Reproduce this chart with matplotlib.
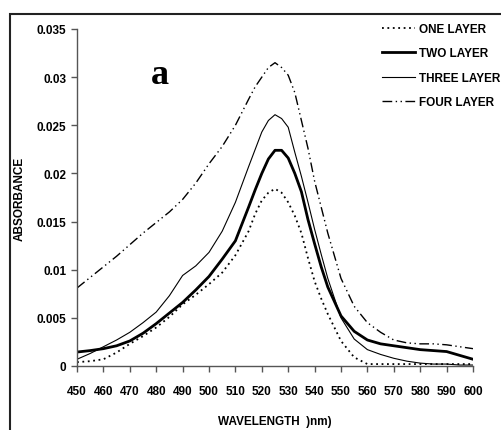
import matplotlib
matplotlib.use("Agg")
import matplotlib.pyplot as plt
from matplotlib.patches import Rectangle

plt.rcParams['font.family'] = ['Liberation Sans', 'DejaVu Sans']
plt.rcParams['font.weight'] = 'bold'

# wavelength grid (nm), finer around the peak
wavelength = [450, 455, 460, 465, 470, 475, 480, 485, 490, 495, 500, 505, 510,
              515, 517.5, 520, 522.5, 525, 527.5, 530, 532.5, 535, 537.5, 540, 542.5, 545,
              550, 555, 560, 565, 570, 575, 580, 585, 590, 595, 600]

one_layer = [0.0004, 0.0005, 0.0007, 0.0014, 0.0023, 0.0031, 0.0040, 0.0051, 0.0064, 0.0074, 0.0085, 0.0097, 0.0115,
             0.0140, 0.0158, 0.0172, 0.0180, 0.0184, 0.0180, 0.0170, 0.0156, 0.0138, 0.0112, 0.0088, 0.0070, 0.0054,
             0.0026, 0.0009, 0.0002, 0.0002, 0.0002, 0.0002, 0.0002, 0.0002, 0.0002, 0.0002, 0.0002]
two_layer = [0.00145, 0.0016, 0.0018, 0.0021, 0.0026, 0.0034, 0.0044, 0.0055, 0.0066, 0.0079, 0.0093, 0.0111, 0.0130,
             0.0165, 0.0183, 0.0200, 0.0215, 0.0224, 0.0224, 0.0216, 0.0200, 0.0181, 0.0152, 0.0127, 0.0103, 0.0082,
             0.0052, 0.0036, 0.0027, 0.0023, 0.0021, 0.0019, 0.0017, 0.0016, 0.0015, 0.0011, 0.0007]
three_layer = [0.0007, 0.0013, 0.0020, 0.0027, 0.0035, 0.0045, 0.0056, 0.0073, 0.0094, 0.0104, 0.0118, 0.0140, 0.0170,
               0.0207, 0.0225, 0.0243, 0.0255, 0.0261, 0.0257, 0.0248, 0.0222, 0.0197, 0.0170, 0.0142, 0.0116, 0.0091,
               0.0050, 0.0028, 0.0017, 0.0012, 0.0008, 0.0005, 0.0003, 0.0002, 0.0002, 0.0001, 0.0001]
four_layer = [0.0081, 0.0092, 0.0103, 0.0114, 0.0126, 0.0138, 0.0149, 0.0160, 0.0173, 0.0190, 0.0210, 0.0228, 0.0250,
              0.0277, 0.0290, 0.0300, 0.0310, 0.0315, 0.0310, 0.0302, 0.0284, 0.0255, 0.0226, 0.0192, 0.0165, 0.0138,
              0.0091, 0.0062, 0.0045, 0.0035, 0.0027, 0.0024, 0.0023, 0.0023, 0.0022, 0.0020, 0.0018]

labels = ["ONE LAYER", "TWO LAYER", "THREE LAYER", "FOUR LAYER"]
y_ticks = [0, 0.005, 0.01, 0.015, 0.02, 0.025, 0.03, 0.035]
y_ticklabels = ["0", "0.005", "0.01", "0.015", "0.02", "0.025", "0.03", "0.035"]
x_ticks = list(range(450, 601, 10))

fig = plt.figure(figsize=(5.02, 4.31), dpi=100)
ax = fig.add_axes([77 / 502, 64 / 431, 396 / 502, 337 / 431])

ax.plot(wavelength, one_layer, color='black', lw=1.3, linestyle=(0, (1, 2)), label=labels[0])
ax.plot(wavelength, two_layer, color='black', lw=2.0, label=labels[1])
ax.plot(wavelength, three_layer, color='black', lw=0.8, label=labels[2])
ax.plot(wavelength, four_layer, color='black', lw=1.0,
        linestyle=(0, (7, 2.5, 1, 2.5, 1, 2.5)), label=labels[3])

ax.set_xlim(450, 600)
ax.set_ylim(0, 0.035)
ax.set_xticks(x_ticks)
ax.set_yticks(y_ticks)
ax.set_yticklabels(y_ticklabels)
ax.tick_params(direction='out', length=4, width=1, color='#555555', labelsize=8.5)
ax.tick_params(axis='x', pad=10)
ax.tick_params(axis='y', pad=3.5)
for lab in ax.get_xticklabels() + ax.get_yticklabels():
    lab.set_fontweight('bold')
ax.spines['top'].set_visible(False)
ax.spines['right'].set_visible(False)
for s in ['left', 'bottom']:
    ax.spines[s].set_color('#555555')
    ax.spines[s].set_linewidth(1)

ax.set_xlabel("WAVELENGTH  )nm)", fontsize=8.5, fontweight='bold')
ax.set_ylabel("ABSORBANCE", fontsize=8.5, fontweight='bold')
ax.xaxis.set_label_coords(0.5, -0.145)
ax.yaxis.set_label_coords(-0.13, 0.5)

ax.text(0.21, 0.866, "a", transform=ax.transAxes, fontsize=26, fontweight='bold',
        family='Liberation Serif', ha='center', va='center')

leg = ax.legend(loc='upper left', bbox_to_anchor=(382 / 502, 1 - 24 / 431),
                bbox_transform=fig.transFigure, frameon=False, fontsize=8.5,
                handlelength=2.8, handletextpad=0.3, labelspacing=1.05, borderpad=0,
                borderaxespad=0)
for t in leg.get_texts():
    t.set_fontweight('bold')

fig.add_artist(Rectangle((10 / 502, -0.05), 1.2, 1 - 15 / 431 + 0.05, transform=fig.transFigure,
                         fill=False, edgecolor='#222222', lw=1.5, clip_on=False))

fig.savefig("out.png", dpi=100)
